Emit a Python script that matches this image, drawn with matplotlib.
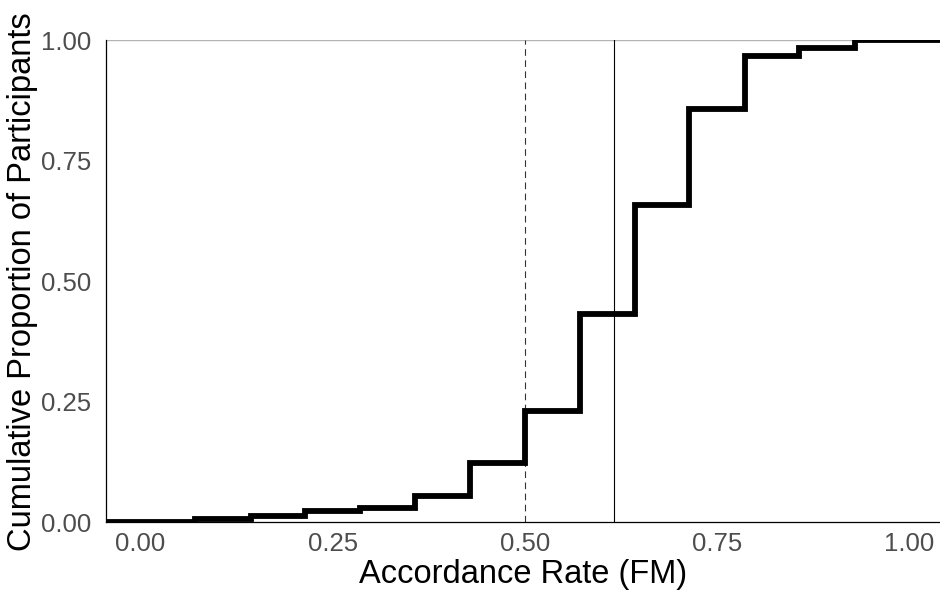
import matplotlib
matplotlib.use("Agg")
import matplotlib.pyplot as plt

plt.rcParams['font.family'] = ['Liberation Sans', 'DejaVu Sans']

# accordance rates where the ECDF jumps, and the cumulative proportion after each jump
rates = [0.071, 0.143, 0.214, 0.286, 0.357, 0.429, 0.500,
         0.571, 0.643, 0.714, 0.786, 0.857, 0.929]
cum_prop = [0.006, 0.012, 0.022, 0.030, 0.055, 0.122, 0.231,
            0.432, 0.659, 0.858, 0.967, 0.984, 1.000]

chance_line = 0.50   # dashed reference
mean_line = 0.6157   # solid reference

x_ticks = [0.00, 0.25, 0.50, 0.75, 1.00]
y_ticks = [0.00, 0.25, 0.50, 0.75, 1.00]
xlim = (-0.045, 1.04)

fig = plt.figure(figsize=(9.4, 5.98), dpi=100)
ax = fig.add_axes([0.1128, 0.1270, 0.8872, 0.8055])

ax.axhline(1.0, color='#b3b3b3', lw=1.0, zorder=1)
ax.axvline(chance_line, color='#333333', lw=0.8, ls=(0, (6, 4)), zorder=2)
ax.axvline(mean_line, color='black', lw=0.8, zorder=2)

xs = [xlim[0]] + rates + [xlim[1]]
ys = [0.0] + cum_prop + [cum_prop[-1]]
ax.step(xs, ys, where='post', color='black', lw=4.2,
        solid_joinstyle='miter', solid_capstyle='butt', zorder=3)

ax.set_xlim(*xlim)
ax.set_ylim(0, 1)
ax.set_xticks(x_ticks)
ax.set_xticklabels([f'{v:.2f}' for v in x_ticks])
ax.set_yticks(y_ticks)
ax.set_yticklabels([f'{v:.2f}' for v in y_ticks])
ax.tick_params(length=0, labelsize=18.5, labelcolor='#4d4d4d')
ax.tick_params(axis='x', pad=7)
ax.tick_params(axis='y', pad=11)

for s in ['top', 'right']:
    ax.spines[s].set_visible(False)
for s in ['left', 'bottom']:
    ax.spines[s].set_color('black')
    ax.spines[s].set_linewidth(0.9)

ax.set_xlabel('Accordance Rate (FM)', fontsize=23.5, labelpad=2)
ax.set_ylabel('Cumulative Proportion of Participants', fontsize=23.5, labelpad=2)

fig.savefig('out.png', dpi=100)
